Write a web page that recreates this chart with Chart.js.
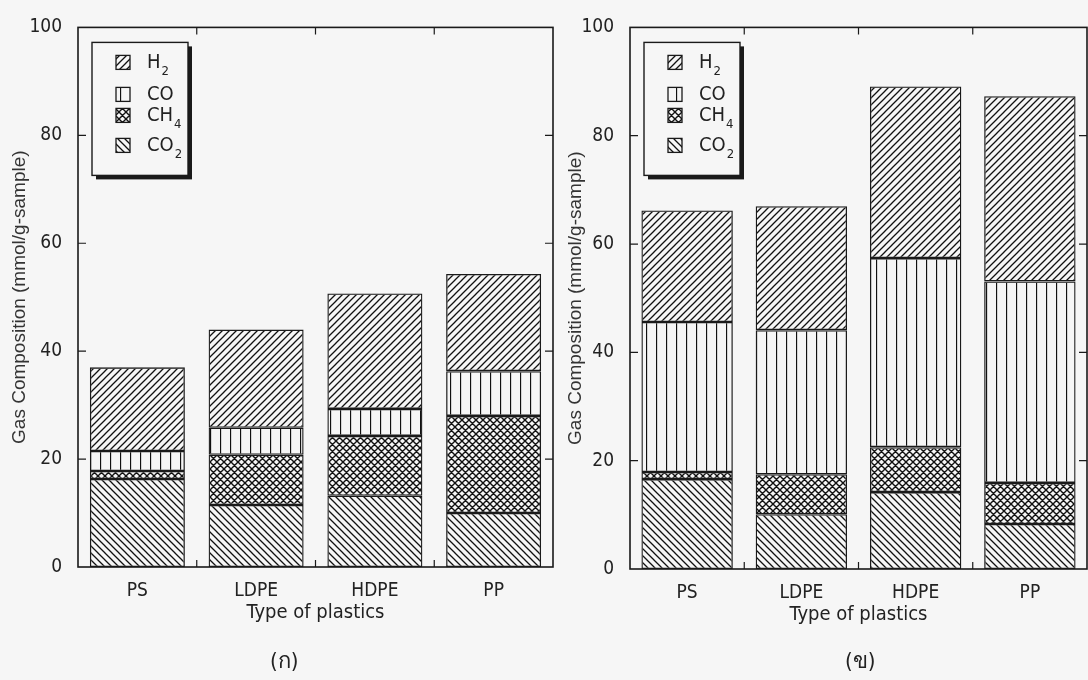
<!DOCTYPE html>
<html>
<head>
<meta charset="utf-8">
<script src="https://cdn.jsdelivr.net/npm/chart.js@4.4.1/dist/chart.umd.min.js"></script>
<style>
body { margin: 0; background: #f6f6f6; width: 1088px; height: 680px; overflow: hidden; position: relative; }
.pane { position: absolute; top: 0; height: 680px; }
#paneA { left: 0; width: 556px; }
#paneB { left: 556px; width: 532px; }
.cap { position: absolute; top: 643px; font: 22px 'Liberation Sans Narrow', 'DejaVu Sans Condensed', sans-serif; color: #222; }
</style>
</head>
<body>
<div class="pane" id="paneA"><canvas id="chartA" width="556" height="680"></canvas></div>
<div class="pane" id="paneB"><canvas id="chartB" width="532" height="680"></canvas></div>
<div class="cap" style="left:270px">(ก)</div>
<div class="cap" style="left:845px">(ข)</div>
<script>
const plastics = ['PS', 'LDPE', 'HDPE', 'PP'];
const legendLabels = [['H', '2'], ['CO', ''], ['CH', '4'], ['CO', '2']];

// (ก)
const co2A = [16.3, 11.5, 13.2, 10.0];
const ch4A = [1.5, 9.3, 11.1, 18.0];
const coA  = [3.7, 5.0, 5.0, 8.3];
const h2A  = [15.5, 18.2, 21.4, 18.0];

// (ข)
const co2B = [16.6, 10.1, 14.2, 8.3];
const ch4B = [1.3, 7.4, 8.3, 7.6];
const coB  = [27.7, 26.6, 34.9, 37.2];
const h2B  = [20.6, 22.9, 31.7, 34.2];

const narrow = "'Liberation Sans Narrow', 'DejaVu Sans Condensed', 'Arial Narrow', sans-serif";
const regular = "'Liberation Sans', Arial, sans-serif";
const ink = '#1a1a1a';

function hatch(kind) {
    const s = kind === 'vert' ? 10 : 7;
    const c = document.createElement('canvas');
    c.width = s; c.height = s;
    const g = c.getContext('2d');
    g.strokeStyle = '#111';
    g.lineWidth = kind === 'cross' ? 1.4 : 1.3;
    g.beginPath();
    if (kind === 'vert') {
        g.moveTo(0.5, 0); g.lineTo(0.5, s);
    }
    if (kind === 'fwd' || kind === 'cross') {
        g.moveTo(-1, s + 1); g.lineTo(s + 1, -1);
        g.moveTo(-1, 1); g.lineTo(1, -1);
        g.moveTo(s - 1, s + 1); g.lineTo(s + 1, s - 1);
    }
    if (kind === 'back' || kind === 'cross') {
        g.moveTo(-1, -1); g.lineTo(s + 1, s + 1);
        g.moveTo(-1, s - 1); g.lineTo(1, s + 1);
        g.moveTo(s - 1, -1); g.lineTo(s + 1, 1);
    }
    g.stroke();
    return g.createPattern(c, 'repeat');
}

const fills = { H2: hatch('fwd'), CO: hatch('vert'), CH4: hatch('cross'), CO2: hatch('back') };
const legendFills = [fills.H2, fills.CO, fills.CH4, fills.CO2];

const framePlugin = {
    id: 'frame',
    afterDatasetsDraw(chart) {
        const { ctx, chartArea: a, scales: { x, y } } = chart;
        ctx.save();
        ctx.strokeStyle = ink;
        ctx.lineWidth = 1.6;
        ctx.strokeRect(a.left, a.top, a.width, a.height);
        ctx.lineWidth = 1.2;
        ctx.beginPath();
        y.ticks.map(t => t.value).filter(v => v > y.min && v < y.max).forEach(v => {
            const py = y.getPixelForValue(v);
            ctx.moveTo(a.left, py); ctx.lineTo(a.left + 8, py);
            ctx.moveTo(a.right, py); ctx.lineTo(a.right - 8, py);
        });
        for (let i = 0; i < plastics.length - 1; i++) {
            const px = (x.getPixelForValue(i) + x.getPixelForValue(i + 1)) / 2;
            ctx.moveTo(px, a.bottom); ctx.lineTo(px, a.bottom - 7);
            ctx.moveTo(px, a.top); ctx.lineTo(px, a.top + 7);
        }
        ctx.stroke();
        ctx.restore();
    }
};

const legendPlugin = {
    id: 'boxLegend',
    afterDraw(chart) {
        const { ctx, chartArea: a } = chart;
        const bx = a.left + 14, by = a.top + 15, bw = 96, bh = 133;
        ctx.save();
        ctx.fillStyle = ink;
        ctx.fillRect(bx + 4, by + 4, bw, bh);
        ctx.fillStyle = '#f6f6f6';
        ctx.fillRect(bx, by, bw, bh);
        ctx.strokeStyle = ink;
        ctx.lineWidth = 1.4;
        ctx.strokeRect(bx, by, bw, bh);
        const rows = [20, 52, 73, 103];
        legendLabels.forEach((lab, i) => {
            const cy = by + rows[i];
            ctx.fillStyle = legendFills[i];
            ctx.fillRect(bx + 24, cy - 7, 14, 14);
            ctx.lineWidth = 1.3;
            ctx.strokeRect(bx + 24, cy - 7, 14, 14);
            ctx.fillStyle = '#222';
            ctx.textBaseline = 'middle';
            ctx.font = '20px ' + narrow;
            ctx.fillText(lab[0], bx + 55, cy);
            const w = ctx.measureText(lab[0]).width;
            if (lab[1]) {
                ctx.font = '13px ' + narrow;
                ctx.fillText(lab[1], bx + 56 + w, cy + 9);
            }
        });
        ctx.restore();
    }
};

function makeChart(id, series, axisWidth, pad) {
    const [co2, ch4, co, h2] = series;
    const ds = (label, data, fill) => ({
        label: label, data: data, backgroundColor: fill,
        borderColor: ink, borderWidth: 1.3, borderSkipped: false,
        barPercentage: 0.8, categoryPercentage: 1
    });
    return new Chart(document.getElementById(id), {
        type: 'bar',
        data: {
            labels: plastics,
            datasets: [
                ds('CO2', co2, fills.CO2),
                ds('CH4', ch4, fills.CH4),
                ds('CO', co, fills.CO),
                ds('H2', h2, fills.H2)
            ]
        },
        options: {
            responsive: false,
            animation: false,
            layout: { padding: pad },
            plugins: { legend: { display: false }, tooltip: { enabled: false } },
            scales: {
                x: {
                    stacked: true,
                    grid: { display: false, drawTicks: false },
                    border: { display: false },
                    ticks: { color: '#222', padding: 13, font: { family: narrow, size: 19 } },
                    title: { display: true, text: 'Type of plastics', color: '#222', padding: { top: 0, bottom: 6 }, font: { family: narrow, size: 20 } },
                    afterFit: s => { s.height = 64; }
                },
                y: {
                    stacked: true,
                    min: 0, max: 100,
                    grid: { display: false, drawTicks: false },
                    border: { display: false },
                    ticks: { stepSize: 20, color: '#222', padding: 16, font: { family: narrow, size: 19 } },
                    title: { display: true, text: 'Gas Composition (mmol/g-sample)', color: '#333', padding: { top: 8, bottom: 0 }, font: { family: regular, size: 19 } },
                    afterFit: s => { s.width = axisWidth; }
                }
            }
        },
        plugins: [framePlugin, legendPlugin]
    });
}

makeChart('chartA', [co2A, ch4A, coA, h2A], 78, { top: 21, right: 3, bottom: 49, left: 0 });
makeChart('chartB', [co2B, ch4B, coB, h2B], 74, { top: 25, right: 1, bottom: 47, left: 0 });
</script>
</body>
</html>
